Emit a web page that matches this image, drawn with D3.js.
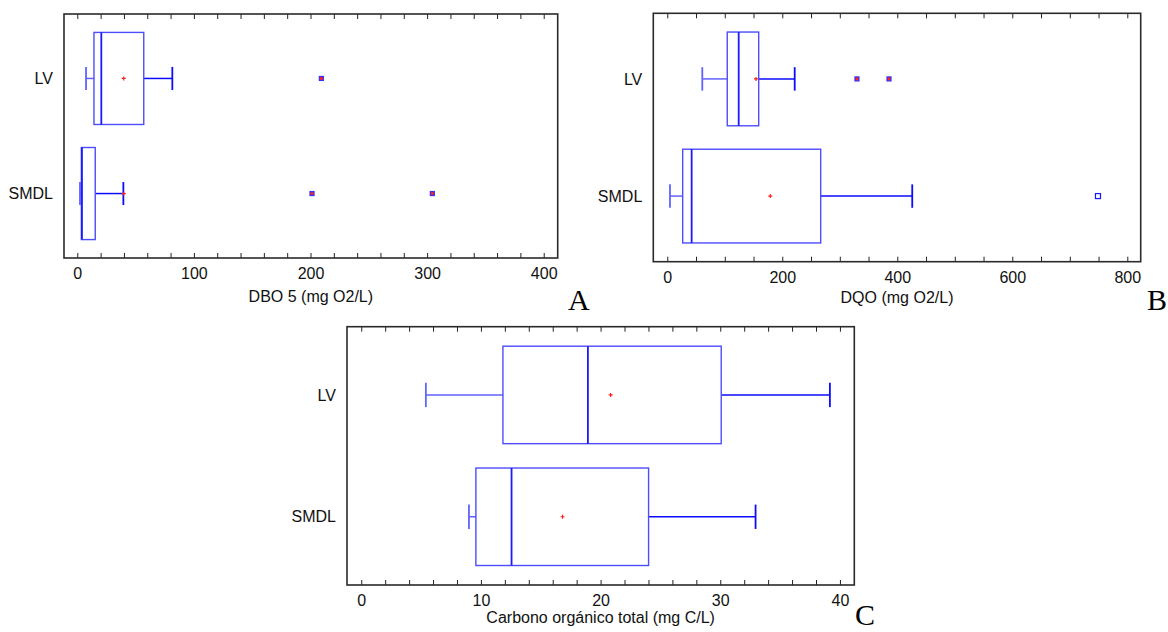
<!DOCTYPE html>
<html>
<head>
<meta charset="utf-8">
<script src="https://cdn.jsdelivr.net/npm/d3@7"></script>
<style>
    body { margin: 0; background: #fff; }
    text { font-family: Arial, "Liberation Sans", sans-serif; }
</style>
</head>
<body>
<div id="chart"></div>
<script>
//Categories shared by the three panels
const categories = ["LV", "SMDL"];

//Box summaries per category: [whisker low, Q1, median, Q3, whisker high]
const dboBoxes = [[7.5, 14.3, 20.6, 57.0, 81.5], [2.3, 3.5, 4.0, 15.4, 39.5]];
const dboMeans = [39.8, 39.9];
const dboOutside = [[209.3], [201.3, 304.5]];
const dboFarOutside = [[], []];

const dqoBoxes = [[60.9, 104.3, 124.2, 159.0, 221.6], [4.7, 26.8, 42.4, 266.8, 426.0]];
const dqoMeans = [154.3, 179.1];
const dqoOutside = [[329.9, 385.6], []];
const dqoFarOutside = [[], [749]];

const cotBoxes = [[5.4, 11.84, 18.94, 30.08, 39.16], [9.0, 9.58, 12.56, 24.01, 32.95]];
const cotMeans = [20.84, 16.82];
const cotOutside = [[], []];
const cotFarOutside = [[], []];

//Tick labels
const dboTicks = [0, 100, 200, 300, 400];
const dqoTicks = [0, 200, 400, 600, 800];
const cotTicks = [0, 10, 20, 30, 40];

const width = 1168;
const height = 632;

const svg = d3.select("#chart")
    .append("svg")
    .attr("width", width)
    .attr("height", height);

//Panel layouts
const panels = [
    {
        left: 64, right: 557.7, top: 14, bottom: 258,
        domain: [-11.4, 412], ticks: dboTicks, minorStep: 20,
        boxes: dboBoxes, means: dboMeans, outside: dboOutside, farOutside: dboFarOutside,
        title: "DBO 5 (mg O2/L)", titleOffset: 44,
        letter: "A", letterX: 568, letterY: 310
    },
    {
        left: 653.3, right: 1140.7, top: 13.3, bottom: 261.7,
        domain: [-24.3, 823.3], ticks: dqoTicks, minorStep: 50,
        boxes: dqoBoxes, means: dqoMeans, outside: dqoOutside, farOutside: dqoFarOutside,
        title: "DQO (mg O2/L)", titleOffset: 41,
        letter: "B", letterX: 1147, letterY: 310
    },
    {
        left: 347, right: 854.3, top: 326.7, bottom: 585,
        domain: [-1.19, 41.2], ticks: cotTicks, minorStep: 2,
        boxes: cotBoxes, means: cotMeans, outside: cotOutside, farOutside: cotFarOutside,
        title: "Carbono orgánico total (mg C/L)", titleOffset: 38,
        letter: "C", letterX: 855, letterY: 625
    }
];

const boxColour = "#4d4dff";
const lowWhiskerColour = "#6262ff";
const highWhiskerColour = "#0b0bff";
const medianColour = "#1a1aff";

function drawPanel(p) {
    const g = svg.append("g");

    const x = d3.scaleLinear().domain(p.domain).range([p.left, p.right]);
    const y = d3.scalePoint().domain(categories).range([p.top, p.bottom]).padding(0.56);
    const step = y.step();
    const bh = step * 0.8;   //box height
    const ch = step * 0.2;   //whisker cap height

    const minor = d3.range(Math.ceil(p.domain[0] / p.minorStep) * p.minorStep, p.domain[1], p.minorStep);

    //bottom ticks (inward) with labels
    const bottomAxis = g.append("g")
        .attr("transform", `translate(0,${p.bottom})`)
        .call(d3.axisBottom(x).tickValues(minor).tickSize(-5).tickPadding(10)
            .tickFormat(d => p.ticks.includes(d) ? d : ""));
    bottomAxis.select(".domain").remove();
    bottomAxis.selectAll("line").attr("stroke", "#222").attr("stroke-width", 1);
    bottomAxis.selectAll("text").attr("font-size", 16).attr("fill", "#111")
        .attr("font-family", "Arial, 'Liberation Sans', sans-serif");

    //top ticks (inward)
    const topAxis = g.append("g")
        .attr("transform", `translate(0,${p.top})`)
        .call(d3.axisTop(x).tickValues(minor).tickSize(-5).tickFormat(""));
    topAxis.select(".domain").remove();
    topAxis.selectAll("line").attr("stroke", "#222").attr("stroke-width", 1);

    //category labels
    const leftAxis = g.append("g")
        .attr("transform", `translate(${p.left},0)`)
        .call(d3.axisLeft(y).tickSize(0).tickPadding(11));
    leftAxis.select(".domain").remove();
    leftAxis.selectAll("text").attr("font-size", 16).attr("fill", "#111")
        .attr("font-family", "Arial, 'Liberation Sans', sans-serif");

    //frame
    g.append("rect")
        .attr("x", p.left)
        .attr("y", p.top)
        .attr("width", p.right - p.left)
        .attr("height", p.bottom - p.top)
        .attr("fill", "none")
        .attr("stroke", "#2a2a2a")
        .attr("stroke-width", 1.6);

    //boxes
    categories.forEach((cat, i) => {
        const [lo, q1, med, q3, hi] = p.boxes[i];
        const cy = y(cat);

        //low whisker
        g.append("line")
            .attr("x1", x(lo)).attr("x2", x(q1)).attr("y1", cy).attr("y2", cy)
            .attr("stroke", lowWhiskerColour).attr("stroke-width", 1.5);
        g.append("line")
            .attr("x1", x(lo)).attr("x2", x(lo)).attr("y1", cy - ch / 2).attr("y2", cy + ch / 2)
            .attr("stroke", lowWhiskerColour).attr("stroke-width", 1.8);

        //high whisker
        g.append("line")
            .attr("x1", x(q3)).attr("x2", x(hi)).attr("y1", cy).attr("y2", cy)
            .attr("stroke", highWhiskerColour).attr("stroke-width", 1.5);
        g.append("line")
            .attr("x1", x(hi)).attr("x2", x(hi)).attr("y1", cy - ch / 2).attr("y2", cy + ch / 2)
            .attr("stroke", highWhiskerColour).attr("stroke-width", 1.8);

        //box
        g.append("rect")
            .attr("x", x(q1))
            .attr("y", cy - bh / 2)
            .attr("width", x(q3) - x(q1))
            .attr("height", bh)
            .attr("fill", "none")
            .attr("stroke", boxColour)
            .attr("stroke-width", 1.4);

        //median
        g.append("line")
            .attr("x1", x(med)).attr("x2", x(med)).attr("y1", cy - bh / 2).attr("y2", cy + bh / 2)
            .attr("stroke", medianColour).attr("stroke-width", 1.8);

        //mean
        const mx = x(p.means[i]);
        g.append("path")
            .attr("d", `M${mx - 2},${cy}H${mx + 2}M${mx},${cy - 2}V${cy + 2}`)
            .attr("stroke", "#ff2020").attr("stroke-width", 1.2);

        //outside points
        p.outside[i].forEach(v => {
            g.append("rect")
                .attr("x", x(v) - 2).attr("y", cy - 2)
                .attr("width", 4).attr("height", 4)
                .attr("fill", "#ff2020")
                .attr("stroke", "#3030ff").attr("stroke-width", 1.2);
        });

        //far outside points
        p.farOutside[i].forEach(v => {
            g.append("rect")
                .attr("x", x(v) - 2.5).attr("y", cy - 2.5)
                .attr("width", 5).attr("height", 5)
                .attr("fill", "#fff")
                .attr("stroke", "#1515ff").attr("stroke-width", 1.2);
        });
    });

    //axis title
    g.append("text")
        .attr("x", (p.left + p.right) / 2)
        .attr("y", p.bottom + p.titleOffset)
        .attr("text-anchor", "middle")
        .attr("font-size", 16)
        .attr("fill", "#111")
        .text(p.title);

    //panel letter
    g.append("text")
        .attr("x", p.letterX)
        .attr("y", p.letterY)
        .style("font-family", "'Liberation Serif', 'DejaVu Serif', serif")
        .attr("font-size", 30)
        .attr("fill", "#000")
        .text(p.letter);
}

panels.forEach(drawPanel);
</script>
</body>
</html>
